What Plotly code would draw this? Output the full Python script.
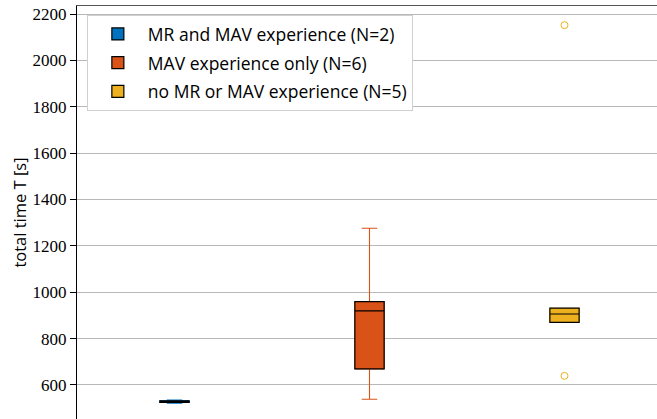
import numpy as np
import plotly.graph_objects as go

# ---- data ----
group_names = ["MR and MAV experience (N=2)", "MAV experience only (N=6)", "no MR or MAV experience (N=5)"]
group_pos = [1, 2, 3]
mr_and_mav = [521, 535]
mav_only = [538, 592, 900, 938, 966, 1276]
no_experience = [639, 870, 906, 931, 2152]
group_colors = ["#0072BD", "#D95319", "#EDB120"]
y_ticks = [600, 800, 1000, 1200, 1400, 1600, 1800, 2000, 2200]

samples = [mr_and_mav, mav_only, no_experience]

SANS = "Open Sans, Lato, DejaVu Sans, sans-serif"

fig = go.Figure()
for name, pos, data, col in zip(group_names, group_pos, samples, group_colors):
    arr = np.array(data, dtype=float)
    q1, med, q3 = np.percentile(arr, [25, 50, 75])
    iqr = q3 - q1
    inside = arr[(arr >= q1 - 1.5 * iqr) & (arr <= q3 + 1.5 * iqr)]
    lo, hi = inside.min(), inside.max()
    outl = arr[(arr < lo) | (arr > hi)]
    # whiskers (coloured)
    fig.add_trace(go.Box(
        x=[pos], q1=[q1], median=[med], q3=[q3], lowerfence=[lo], upperfence=[hi],
        name=name, showlegend=False, width=0.15, whiskerwidth=0.53,
        fillcolor=col, line=dict(color=col, width=1.1), legendgroup=name,
    ))
    # box body with black edges and black median
    fig.add_trace(go.Box(
        x=[pos], q1=[q1], median=[med], q3=[q3], lowerfence=[q1], upperfence=[q3],
        name=name, showlegend=True, width=0.15, whiskerwidth=0,
        fillcolor=col, line=dict(color="black", width=1.2), legendgroup=name,
    ))
    # outliers
    if len(outl):
        fig.add_trace(go.Scatter(
            x=[pos] * len(outl), y=outl, mode="markers", showlegend=False,
            marker=dict(symbol="circle-open", size=7, color=col, line=dict(width=1, color=col)),
            legendgroup=name, hoverinfo="y",
        ))

fig.update_layout(
    width=657, height=419,
    margin=dict(l=77, r=0, t=6, b=0),
    paper_bgcolor="white", plot_bgcolor="white",
    boxmode="overlay",
    showlegend=True,
    legend=dict(
        x=0.017, y=0.978, xanchor="left", yanchor="top",
        bgcolor="white", bordercolor="#d0d0d0", borderwidth=1,
        font=dict(family=SANS, size=17.5, color="black"),
        tracegroupgap=3, itemwidth=50,
    ),
    xaxis=dict(
        range=[0.5, 0.5 + 580 / 195], side="top", showticklabels=False, ticks="",
        showgrid=False, zeroline=False, showline=True, linecolor="#555555", linewidth=1,
        automargin=False,
    ),
    yaxis=dict(
        range=[453, 2234.5], tickvals=y_ticks, ticks="outside", ticklen=6, tickcolor="black",
        showline=True, linecolor="black", linewidth=1, zeroline=False, automargin=False,
        showgrid=True, gridcolor="#b8b8b8", gridwidth=1,
        tickfont=dict(family="Liberation Serif, serif", size=17, color="black"),
        title=dict(text="total time T [s]", standoff=1,
                   font=dict(family=SANS, size=16.5, color="black")),
    ),
)

fig.write_html(
    "out.html",
    config={"displayModeBar": False},
    post_script="document.body.style.margin='0';document.body.style.overflow='hidden';",
)
